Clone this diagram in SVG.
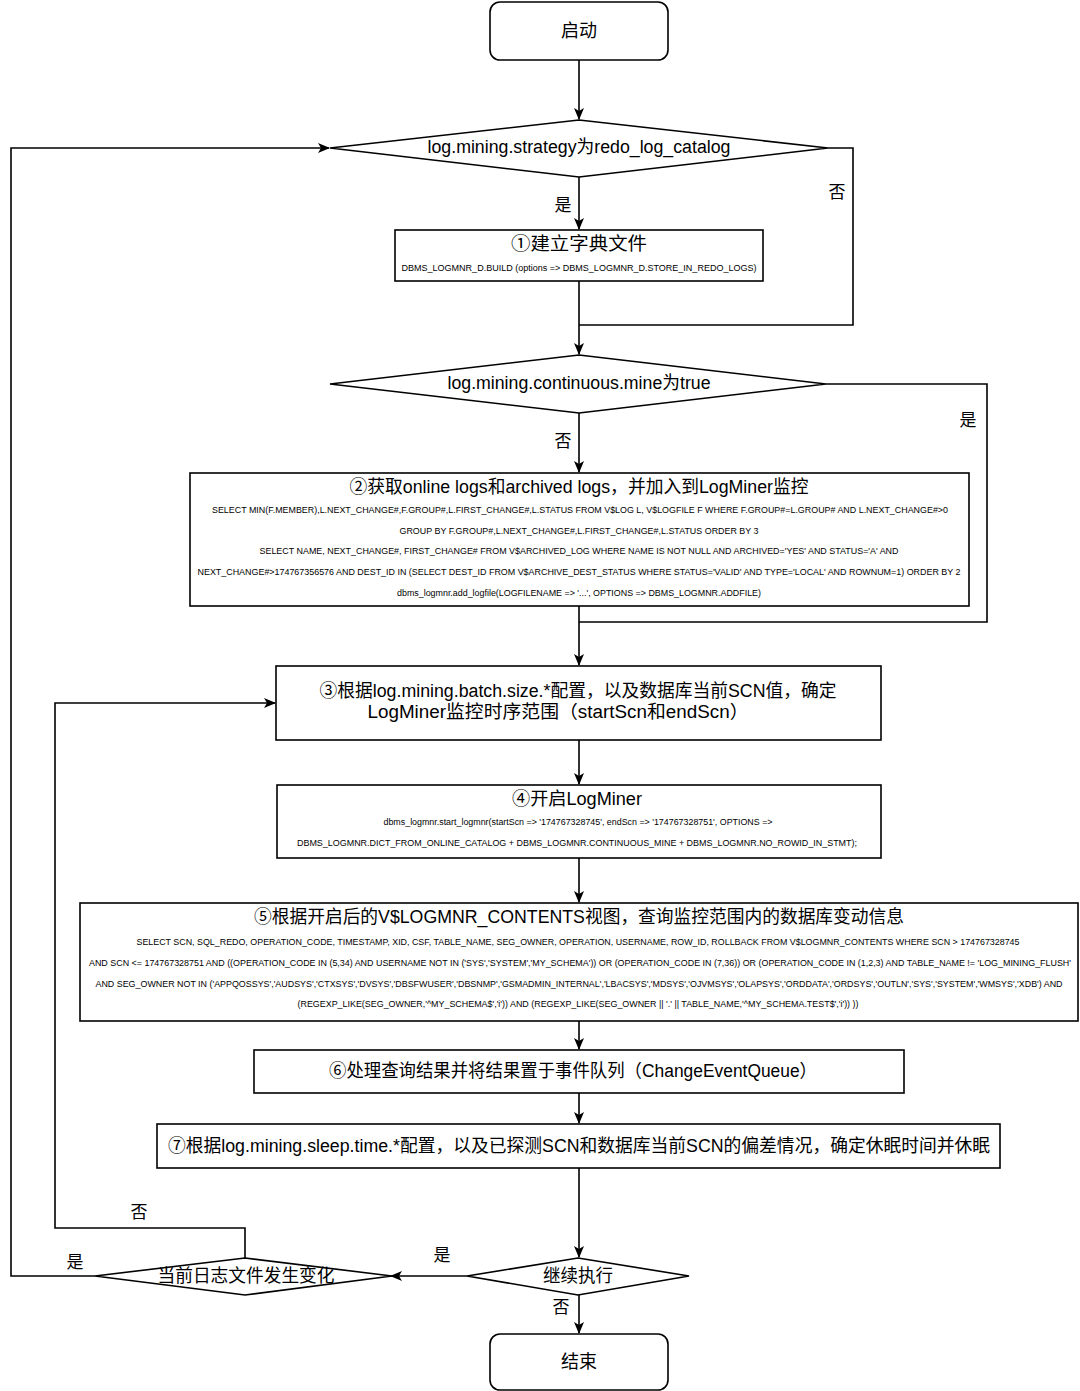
<svg xmlns="http://www.w3.org/2000/svg" width="1080" height="1391" viewBox="0 0 1080 1391">
<defs>
<marker id="arr" viewBox="0 0 12 10" refX="11" refY="5" markerWidth="12" markerHeight="10" markerUnits="userSpaceOnUse" orient="auto">
<path d="M0,0 L12,5 L0,10 L3,5 Z" fill="#000"/>
</marker>
<style>
.box{fill:#fff;stroke:#000;stroke-width:1.6}
.t{font-family:"Liberation Sans","Noto Sans CJK SC",sans-serif;fill:#000;text-anchor:middle;dominant-baseline:central}
.big{font-size:18px}
.sm{font-size:8.5px}
.lbl{font-size:17px}
.conn{fill:none;stroke:#000;stroke-width:1.6}
</style>
</defs>
<rect width="1080" height="1391" fill="#fff"/>

<g id="connectors">
<path class="conn" d="M579,60 V119" marker-end="url(#arr)"/>
<path class="conn" d="M579,177 V229" marker-end="url(#arr)"/>
<path class="conn" d="M828,148 H853 V325 H579"/>
<path class="conn" d="M579,281 V354" marker-end="url(#arr)"/>
<path class="conn" d="M579,413 V472" marker-end="url(#arr)"/>
<path class="conn" d="M826,384 H987 V622 H579"/>
<path class="conn" d="M579,606 V665" marker-end="url(#arr)"/>
<path class="conn" d="M579,740 V784" marker-end="url(#arr)"/>
<path class="conn" d="M579,858 V902" marker-end="url(#arr)"/>
<path class="conn" d="M579,1021 V1049" marker-end="url(#arr)"/>
<path class="conn" d="M579,1093 V1123" marker-end="url(#arr)"/>
<path class="conn" d="M579,1168 V1257" marker-end="url(#arr)"/>
<path class="conn" d="M467,1276 H391" marker-end="url(#arr)"/>
<path class="conn" d="M579,1295 V1333" marker-end="url(#arr)"/>
<path class="conn" d="M245,1258 V1228 H55 V703 H275" marker-end="url(#arr)"/>
<path class="conn" d="M95,1276 H11 V148 H329" marker-end="url(#arr)"/>
<text class="t lbl" x="563" y="205">是</text>
<text class="t lbl" x="837" y="192">否</text>
<text class="t lbl" x="968" y="420">是</text>
<text class="t lbl" x="563" y="441">否</text>
<text class="t lbl" x="139" y="1212">否</text>
<text class="t lbl" x="75" y="1262">是</text>
<text class="t lbl" x="442" y="1255">是</text>
<text class="t lbl" x="561" y="1307">否</text>
</g>

<g id="start">
<rect class="box" x="490" y="2" width="178" height="58" rx="10"/>
<text class="t big" x="579" y="31">启动</text>
</g>

<g id="d-strategy">
<polygon class="box" points="579,120 828,148 579,177 330,148"/>
<text class="t big" x="579" y="147" textLength="303" lengthAdjust="spacingAndGlyphs">log.mining.strategy为redo_log_catalog</text>
</g>

<g id="step1">
<rect class="box" x="395" y="230" width="368" height="51"/>
<text class="t big" x="579" y="244" textLength="136" lengthAdjust="spacingAndGlyphs">①建立字典文件</text>
<text class="t sm" x="579" y="268" textLength="355" lengthAdjust="spacingAndGlyphs">DBMS_LOGMNR_D.BUILD (options =&gt; DBMS_LOGMNR_D.STORE_IN_REDO_LOGS)</text>
</g>

<g id="d-continuous">
<polygon class="box" points="579,355 826,384 579,413 330,384"/>
<text class="t big" x="579" y="383" textLength="263" lengthAdjust="spacingAndGlyphs">log.mining.continuous.mine为true</text>
</g>

<g id="step2">
<rect class="box" x="190" y="473" width="779" height="133"/>
<text class="t big" x="579" y="487" textLength="459" lengthAdjust="spacingAndGlyphs">②获取online logs和archived logs，并加入到LogMiner监控</text>
<text class="t sm" x="580" y="510" textLength="736" lengthAdjust="spacingAndGlyphs">SELECT MIN(F.MEMBER),L.NEXT_CHANGE#,F.GROUP#,L.FIRST_CHANGE#,L.STATUS FROM V$LOG L, V$LOGFILE F WHERE F.GROUP#=L.GROUP# AND L.NEXT_CHANGE#&gt;0</text>
<text class="t sm" x="579" y="531" textLength="359" lengthAdjust="spacingAndGlyphs">GROUP BY F.GROUP#,L.NEXT_CHANGE#,L.FIRST_CHANGE#,L.STATUS ORDER BY 3</text>
<text class="t sm" x="579" y="551" textLength="639" lengthAdjust="spacingAndGlyphs">SELECT NAME, NEXT_CHANGE#, FIRST_CHANGE# FROM V$ARCHIVED_LOG WHERE NAME IS NOT NULL AND ARCHIVED='YES' AND STATUS='A' AND</text>
<text class="t sm" x="579" y="572" textLength="763" lengthAdjust="spacingAndGlyphs">NEXT_CHANGE#&gt;174767356576 AND DEST_ID IN (SELECT DEST_ID FROM V$ARCHIVE_DEST_STATUS WHERE STATUS='VALID' AND TYPE='LOCAL' AND ROWNUM=1) ORDER BY 2</text>
<text class="t sm" x="579" y="593" textLength="364" lengthAdjust="spacingAndGlyphs">dbms_logmnr.add_logfile(LOGFILENAME =&gt; '...', OPTIONS =&gt; DBMS_LOGMNR.ADDFILE)</text>
</g>

<g id="step3">
<rect class="box" x="276" y="666" width="605" height="74"/>
<text class="t big" x="578" y="691" textLength="517" lengthAdjust="spacingAndGlyphs">③根据log.mining.batch.size.*配置，以及数据库当前SCN值，确定</text>
<text class="t big" x="558" y="712" textLength="381" lengthAdjust="spacingAndGlyphs">LogMiner监控时序范围（startScn和endScn）</text>
</g>

<g id="step4">
<rect class="box" x="277" y="785" width="604" height="73"/>
<text class="t big" x="577" y="799" textLength="130" lengthAdjust="spacingAndGlyphs">④开启LogMiner</text>
<text class="t sm" x="578" y="822" textLength="389" lengthAdjust="spacingAndGlyphs">dbms_logmnr.start_logmnr(startScn =&gt; '174767328745', endScn =&gt; '174767328751', OPTIONS =&gt;</text>
<text class="t sm" x="577" y="843" textLength="560" lengthAdjust="spacingAndGlyphs">DBMS_LOGMNR.DICT_FROM_ONLINE_CATALOG  + DBMS_LOGMNR.CONTINUOUS_MINE  + DBMS_LOGMNR.NO_ROWID_IN_STMT);</text>
</g>

<g id="step5">
<rect class="box" x="80" y="903" width="998" height="118"/>
<text class="t big" x="579" y="917" textLength="650" lengthAdjust="spacingAndGlyphs">⑤根据开启后的V$LOGMNR_CONTENTS视图，查询监控范围内的数据库变动信息</text>
<text class="t sm" x="578" y="942" textLength="883" lengthAdjust="spacingAndGlyphs">SELECT SCN, SQL_REDO, OPERATION_CODE, TIMESTAMP, XID, CSF, TABLE_NAME, SEG_OWNER, OPERATION, USERNAME, ROW_ID, ROLLBACK FROM V$LOGMNR_CONTENTS WHERE SCN &gt; 174767328745</text>
<text class="t sm" x="580" y="963" textLength="982" lengthAdjust="spacingAndGlyphs">AND SCN &lt;= 174767328751 AND ((OPERATION_CODE IN (5,34) AND USERNAME NOT IN ('SYS','SYSTEM','MY_SCHEMA')) OR (OPERATION_CODE IN (7,36)) OR (OPERATION_CODE IN (1,2,3) AND TABLE_NAME != 'LOG_MINING_FLUSH'</text>
<text class="t sm" x="579" y="984" textLength="967" lengthAdjust="spacingAndGlyphs">AND SEG_OWNER NOT IN ('APPQOSSYS','AUDSYS','CTXSYS','DVSYS','DBSFWUSER','DBSNMP','GSMADMIN_INTERNAL','LBACSYS','MDSYS','OJVMSYS','OLAPSYS','ORDDATA','ORDSYS','OUTLN','SYS','SYSTEM','WMSYS','XDB') AND</text>
<text class="t sm" x="578" y="1004" textLength="561" lengthAdjust="spacingAndGlyphs">(REGEXP_LIKE(SEG_OWNER,'^MY_SCHEMA$','i')) AND (REGEXP_LIKE(SEG_OWNER || '.' || TABLE_NAME,'^MY_SCHEMA.TEST$','i')) ))</text>
</g>

<g id="step6">
<rect class="box" x="254" y="1050" width="650" height="43"/>
<text class="t big" x="573" y="1071" textLength="488" lengthAdjust="spacingAndGlyphs">⑥处理查询结果并将结果置于事件队列（ChangeEventQueue）</text>
</g>

<g id="step7">
<rect class="box" x="157" y="1124" width="843" height="44"/>
<text class="t big" x="579" y="1146" textLength="822" lengthAdjust="spacingAndGlyphs">⑦根据log.mining.sleep.time.*配置，以及已探测SCN和数据库当前SCN的偏差情况，确定休眠时间并休眠</text>
</g>

<g id="d-continue">
<polygon class="box" points="578,1258 689,1276 578,1295 467,1276"/>
<text class="t big" x="578" y="1276" textLength="70" lengthAdjust="spacingAndGlyphs">继续执行</text>
</g>

<g id="d-logchange">
<polygon class="box" points="245,1258 392,1276 245,1295 95,1276"/>
<text class="t big" x="246" y="1276" textLength="177" lengthAdjust="spacingAndGlyphs">当前日志文件发生变化</text>
</g>

<g id="end">
<rect class="box" x="490" y="1334" width="178" height="56" rx="10"/>
<text class="t big" x="579" y="1362">结束</text>
</g>
</svg>
